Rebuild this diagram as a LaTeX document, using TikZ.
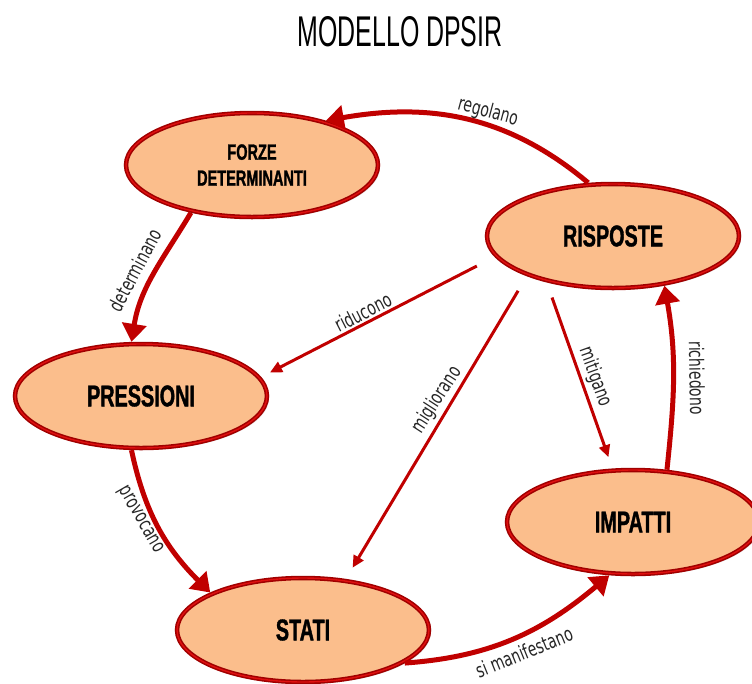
\documentclass[tikz,border=0pt]{standalone}
\usepackage{fontspec}
\setmainfont{Liberation Sans}
\newfontfamily\titlefont[FakeStretch=0.58]{Liberation Sans}
\newfontfamily\boxfont[FakeStretch=0.66,FakeBold=1.2]{Liberation Sans}
\newfontfamily\labelfont[FakeStretch=0.70]{DejaVu Sans}
\usetikzlibrary{shapes.geometric,arrows.meta,shadows}

\definecolor{peach}{HTML}{FBBE8C}
\definecolor{rim}{HTML}{A00000}
\definecolor{rimlight}{HTML}{E01010}
\definecolor{flow}{HTML}{C00000}

\begin{document}
\begin{tikzpicture}[x=1pt,y=1pt,
  stage/.style={ellipse, minimum width=252pt, minimum height=104pt, inner sep=0pt,
    fill=peach, draw=rim, line width=4.5pt, align=center,
    font=\boxfont\bfseries\fontsize{30}{30}\selectfont,
    postaction={draw=rimlight, line width=1.4pt},
    drop shadow={opacity=0.25, shadow xshift=2pt, shadow yshift=-2pt}},
  flow/.style={draw=flow, line width=5pt, -{Triangle[length=18pt,width=24pt]}},
  ray/.style={draw=flow, line width=3pt, -{Triangle[length=12pt,width=11pt]}},
  tag/.style={font=\labelfont\fontsize{20}{20}\selectfont, text=black!85, inner sep=0pt}]

\useasboundingbox (0,0) rectangle (752,-683);
\clip (0,0) rectangle (752,-683);

% title
\node[font=\titlefont\fontsize{43}{43}\selectfont] (title) at (400,-32) {MODELLO DPSIR};

% stages of the cycle
\node[stage, font=\boxfont\bfseries\fontsize{22}{26}\selectfont] (forze) at (252,-165) {FORZE\\DETERMINANTI};
\node[stage] (ris)   at (613,-236) {RISPOSTE};
\node[stage] (press) at (141,-396) {PRESSIONI};
\node[stage] (stati) at (303,-630) {STATI};
\node[stage] (imp)   at (633,-522) {IMPATTI};

% outer cycle
\draw[flow] (ris.115)   to[out=140,in=10]  (forze.31);
\draw[flow] (forze.218) to[out=-121,in=81] (press.100);
\draw[flow] (press.-100) to[out=-78,in=135] (stati.158);
\draw[flow] (stati.-18) to[out=4,in=220]   (imp.-114);
\draw[flow] (imp.57)    to[out=84,in=-80]  (ris.-44);

% responses acting on the other stages
\draw[ray, shorten <=20pt, shorten >=10pt] (ris.190.5) -- (press.9);
\draw[ray, shorten <=17pt, shorten >=13pt] (ris.205) -- (stati.50);
\draw[ray, shorten <=16pt, shorten >=12pt] (ris.215.4) -- (imp.111.5);

% labels
\node[tag, rotate=-15] (lreg)  at (488,-112) {regolano};
\node[tag, rotate=62]  (ldet)  at (135,-270) {determinano};
\node[tag, rotate=-60] (lprov) at (140,-520) {provocano};
\node[tag, rotate=22]  (lman)  at (524,-652) {si manifestano};
\node[tag, rotate=-89] (lric)  at (697,-378) {richiedono};
\node[tag, rotate=27]  (lrid)  at (363,-312) {riducono};
\node[tag, rotate=57]  (lmig)  at (437,-400) {migliorano};
\node[tag, rotate=-70] (lmit)  at (595,-377) {mitigano};
\end{tikzpicture}
\end{document}
